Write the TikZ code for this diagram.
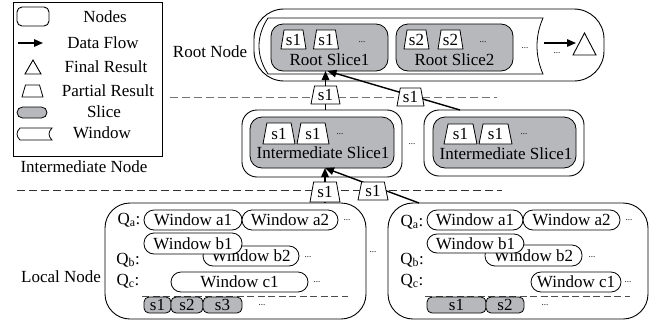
\documentclass[tikz,border=0pt]{standalone}
\usepackage{fontspec}
\setmainfont{Liberation Serif}
\usetikzlibrary{arrows.meta,shapes.geometric}
\definecolor{slicegray}{RGB}{182,184,187}
\newcommand\bx[7]{\node[#2, minimum width={#5-#3}, minimum height={#6-#4}] (#1) at ({(#3+#5)/2},{(#4+#6)/2}) {#7};}
\newcommand\trap[6]{\node[partial, minimum width=#4, minimum height=#5] (#1) at (#2,#3) {#6};}
\newcommand\dotsat[3]{\node[dotsnode] (#1) at (#2,#3) {...};}
\begin{document}
\begin{tikzpicture}[x=1pt,y=-1pt,
  font=\fontsize{17pt}{20pt}\selectfont,
  every node/.style={inner sep=0pt, outer sep=0pt},
  nodebox/.style={draw, fill=white, line width=0.9pt},
  slicebox/.style={draw, fill=slicegray, line width=0.8pt},
  pill/.style={draw, fill=white, rounded corners=10pt, line width=0.8pt},
  partial/.style={draw, fill=white, trapezium, trapezium angle=78, trapezium stretches=true, line width=0.8pt},
  flow/.style={line width=1.4pt, -{Triangle[length=9pt,width=7.5pt]}},
  sepline/.style={dash pattern=on 8pt off 4pt, line width=0.9pt},
  dotsnode/.style={font=\fontsize{9pt}{10pt}\selectfont},
  winshape/.style={draw, fill=white, line width=0.8pt}
]
\useasboundingbox (0,0) rectangle (655,327);

% ---------------- legend ----------------
\draw[line width=0.9pt] (13,2) rectangle (162,156);
\bx{lgN}{nodebox, rounded corners=5pt}{17}{7}{49}{26}{}
\node (lgNt) at (105,17) {Nodes};
\coordinate (lgA1) at (18,43);
\coordinate (lgA2) at (43,43);
\draw[flow] (lgA1) -- (lgA2);
\node (lgAt) at (103,43) {Data Flow};
\draw[line width=0.9pt, fill=white] (25,74) -- (41,74) -- (33,60) -- cycle;
\node (lgFt) at (106,67) {Final Result};
\node[partial, inner sep=2pt, trapezium angle=76, minimum width=21, minimum height=12] (lgP) at (32.5,91) {};
\node (lgPt) at (108,91) {Partial Result};
\bx{lgS}{slicebox, rounded corners=5.5pt}{17}{107}{47}{118}{}
\node (lgSt) at (104,112) {Slice};
\draw[winshape] (20,128) -- (52,128) .. controls (48,132) and (48,136) .. (52,140) -- (20,140) .. controls (16,136) and (16,132) .. (20,128) -- cycle;
\node (lgWt) at (102,133) {Window};

% ---------------- left labels ----------------
\node (lblRoot) at (210,52) {Root Node};
\node (lblInt) at (84,167) {Intermediate Node};
\node (lblLoc) at (61,277) {Local Node};

% ---------------- separators ----------------
\draw[sepline, black!55] (170,97) -- (497,97);
\draw[sepline, black!80] (17,190) -- (502,190);

% ---------------- root node ----------------
\bx{root}{nodebox, rounded corners=30pt}{254}{9}{604}{81}{}
\draw[winshape] (268,18) -- (543,18) .. controls (535,36) and (535,56) .. (543,74) -- (268,74) .. controls (256,56) and (256,36) .. (268,18) -- cycle;
\bx{rs1}{slicebox, rounded corners=12pt}{271}{24}{388}{71}{}
\bx{rs2}{slicebox, rounded corners=12pt}{396}{24}{513}{71}{}
\trap{rp1}{293.5}{39.5}{25}{19}{s1}
\trap{rp2}{326}{39.5}{25}{19}{s1}
\dotsat{rd1}{362}{42}
\node (rs1t) at (329.5,60) {Root Slice1};
\trap{rp3}{416.5}{39.5}{25}{19}{s2}
\trap{rp4}{450.5}{39.5}{25}{19}{s2}
\dotsat{rd2}{483}{42}
\node (rs2t) at (454.5,60) {Root Slice2};
\dotsat{rd3}{525}{48}
\coordinate (finA1) at (544,43);
\coordinate (finA2) at (576,43);
\draw[flow] (finA1) -- (finA2);
\dotsat{rd4}{557}{53}
\draw[line width=0.9pt, fill=white] (573,55) -- (596,55) -- (584.5,33) -- cycle;

% ---------------- intermediate nodes ----------------
\bx{iL}{nodebox, rounded corners=15pt}{242}{110}{402}{177}{}
\bx{iLs}{slicebox, rounded corners=12pt}{250}{117}{394}{168}{}
\trap{ip1}{279}{133.5}{32}{21}{s1}
\trap{ip2}{313}{133.5}{32}{21}{s1}
\dotsat{id1}{340}{134}
\node (iLt) at (323,153) {Intermediate Slice1};
\dotsat{id2}{412}{144}
\bx{iR}{nodebox, rounded corners=15pt}{424}{110}{584}{176}{}
\bx{iRs}{slicebox, rounded corners=12pt}{433}{117}{576}{168}{}
\trap{ip3}{460.5}{134}{33}{20}{s1}
\trap{ip4}{495.5}{134}{33}{20}{s1}
\dotsat{id3}{524}{134}
\node (iRt) at (506,154) {Intermediate Slice1};

% ---------------- local nodes ----------------
\bx{lL}{nodebox, rounded corners=25pt}{105}{203}{366}{319}{}
\node (lLqa) at (129,220) {Q\textsubscript{a}:};
\node (lLqb) at (128,260) {Q\textsubscript{b}:};
\node (lLqc) at (128,281) {Q\textsubscript{c}:};
\bx{lLa1}{pill}{144}{210}{242}{230}{Window a1}
\bx{lLa2}{pill}{242}{210}{338}{230}{Window a2}
\dotsat{lLd1}{347}{220}
\bx{lLb2}{pill}{203}{246}{299}{266}{Window b2}
\dotsat{lLd2}{308}{257}
\bx{lLb1}{pill}{144}{233}{242}{254}{Window b1}
\bx{lLc1}{pill}{171}{272}{308}{292}{Window c1}
\dotsat{lLd3}{317}{282}
\draw[sepline, black!70, dash pattern=on 7pt off 3.5pt, line width=0.8pt] (142,296) -- (348,296);
\bx{lLs1}{slicebox, rounded corners=5pt}{144}{297}{171}{313}{s1}
\bx{lLs2}{slicebox, rounded corners=5pt}{171}{297}{203}{313}{s2}
\bx{lLs3}{slicebox, rounded corners=5pt}{203}{297}{242}{313}{s3}
\dotsat{lLd4}{262}{305}
\dotsat{lmid}{373}{252}

\bx{lR}{nodebox, rounded corners=25pt}{388}{203}{648}{319}{}
\node (lRqa) at (412,222) {Q\textsubscript{a}:};
\node (lRqb) at (412,260) {Q\textsubscript{b}:};
\node (lRqc) at (412,281) {Q\textsubscript{c}:};
\bx{lRa1}{pill}{427}{210}{523}{230}{Window a1}
\bx{lRa2}{pill}{523}{210}{620}{230}{Window a2}
\dotsat{lRd1}{629}{220}
\bx{lRb2}{pill}{485}{245}{582}{266}{Window b2}
\dotsat{lRd2}{592}{257}
\bx{lRb1}{pill}{427}{234}{524}{253}{Window b1}
\bx{lRc1}{pill}{531}{272}{621}{292}{Window c1}
\dotsat{lRd3}{628}{282}
\draw[sepline, black!70, dash pattern=on 7pt off 3.5pt, line width=0.8pt] (425,296) -- (630,296);
\bx{lRs1}{slicebox, rounded corners=5pt}{427}{297}{486}{313}{s1}
\bx{lRs2}{slicebox, rounded corners=5pt}{486}{297}{524}{313}{s2}
\dotsat{lRd4}{545}{305}

% ---------------- data flow ----------------
\coordinate (cA) at (325.5,95);
\coordinate (cB) at (410.5,97);
\coordinate (cC) at (325,192);
\coordinate (cD) at (373,191);
\draw[flow] (iL.north -| cA) -- (cA |- rs1.south);
\draw[flow] ([xshift=-44pt]iR.north) -- ([xshift=-2pt]rs1.south);
\draw[flow] (lL.north -| cC) -- (cC |- iLs.south);
\draw[flow] ([xshift=-99pt]lR.north) -- ([xshift=3pt]iLs.south);
\node[partial, minimum width=29, minimum height=18] (tA) at (cA) {s1};
\node[partial, minimum width=27, minimum height=18] (tB) at (cB) {s1};
\node[partial, minimum width=30, minimum height=20] (tC) at (cC) {s1};
\node[partial, minimum width=30, minimum height=18] (tD) at (cD) {s1};
\end{tikzpicture}
\end{document}
